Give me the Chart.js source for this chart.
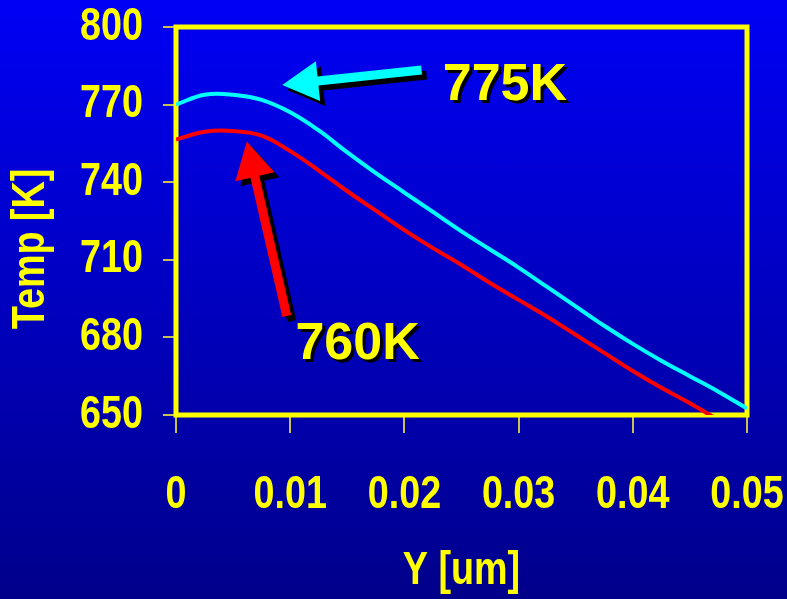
<!DOCTYPE html>
<html>
<head>
<meta charset="utf-8">
<script src="https://cdn.jsdelivr.net/npm/chart.js@4/dist/chart.umd.min.js"></script>
<style>
  html, body { margin: 0; padding: 0; }
  body { width: 787px; height: 599px; background: linear-gradient(#0000f5, #00008a); }
  #wrap { width: 787px; height: 599px; }
</style>
</head>
<body>
<div id="wrap"><canvas id="tempChart"></canvas></div>
<script>
// ===================== DATA =====================
const yPositions = [0, 0.0025, 0.005, 0.0075, 0.01, 0.0125, 0.015, 0.0175, 0.02, 0.0225, 0.025,
  0.0275, 0.03, 0.0325, 0.035, 0.0375, 0.04, 0.0425, 0.045, 0.0475, 0.05];
const temp775 = [770, 773.8, 773.8, 771.8, 767, 760, 751.5, 743.5, 736, 728.5, 721,
  714, 707, 699.5, 692, 684.5, 677.5, 671, 665, 659, 652.5];
const temp760 = [756.5, 759.5, 759.8, 758, 752, 744.5, 736.5, 729, 721.5, 714.5, 708,
  701, 694.5, 688, 681, 674, 667, 660.5, 654.5, 648, 641];
const xTickValues = [0, 0.01, 0.02, 0.03, 0.04, 0.05];
const xTickLabels = ["0", "0.01", "0.02", "0.03", "0.04", "0.05"];
const yTickValues = [650, 680, 710, 740, 770, 800];
const peakLabels = ["775K", "760K"];

// annotation anchors, in data units
const arrow775 = { from: [0.0215, 783.4], to: [0.0093, 777.6] };
const arrow760 = { from: [0.0097, 688.3], to: [0.0062, 755.7] };
const label775At = [0.0288, 771.8];
const label760At = [0.0159, 671.6];

const YELLOW = "#ffff00";
const SANS = '"Liberation Sans", Arial, sans-serif';
const NARROW = 0.82; // horizontal squeeze to fake Arial Narrow

// ===================== PLUGINS =====================
// axis text is drawn before the datasets: squeeze it until then
const narrowText = {
  id: "narrowText",
  beforeDraw(chart) {
    const ctx = chart.ctx;
    const fill = CanvasRenderingContext2D.prototype.fillText;
    ctx.fillText = function (text, x, y, maxWidth) {
      this.save();
      this.translate(x, y);
      this.scale(NARROW, 1);
      if (maxWidth === undefined) fill.call(this, text, 0, 0);
      else fill.call(this, text, 0, 0, maxWidth / NARROW);
      this.restore();
    };
  },
  beforeDatasetsDraw(chart) {
    delete chart.ctx.fillText;
  }
};

const frame = {
  id: "frame",
  beforeDatasetsDraw(chart) {
    const { ctx, chartArea: a } = chart;
    ctx.save();
    ctx.strokeStyle = YELLOW;
    ctx.lineWidth = 5;
    ctx.strokeRect(a.left, a.top, a.right - a.left, a.bottom - a.top);
    ctx.restore();
  }
};

function drawArrow(ctx, x0, y0, x1, y1, color) {
  const ang = Math.atan2(y1 - y0, x1 - x0);
  const headLen = 36, headHalf = 20, shaft = 9;
  const bx = x1 - Math.cos(ang) * headLen;
  const by = y1 - Math.sin(ang) * headLen;
  const nx = -Math.sin(ang), ny = Math.cos(ang);
  ctx.fillStyle = color;
  ctx.beginPath();
  ctx.moveTo(x0 + nx * shaft / 2, y0 + ny * shaft / 2);
  ctx.lineTo(bx + nx * shaft / 2, by + ny * shaft / 2);
  ctx.lineTo(bx + nx * headHalf, by + ny * headHalf);
  ctx.lineTo(x1, y1);
  ctx.lineTo(bx - nx * headHalf, by - ny * headHalf);
  ctx.lineTo(bx - nx * shaft / 2, by - ny * shaft / 2);
  ctx.lineTo(x0 - nx * shaft / 2, y0 - ny * shaft / 2);
  ctx.closePath();
  ctx.fill();
}

const callouts = {
  id: "callouts",
  afterDatasetsDraw(chart) {
    const { ctx, scales: { x, y } } = chart;
    const px = p => [x.getPixelForValue(p[0]), y.getPixelForValue(p[1])];
    ctx.save();
    [[arrow775, "#00ffff"], [arrow760, "#ff0000"]].forEach(([a, c]) => {
      const [x0, y0] = px(a.from);
      const [x1, y1] = px(a.to);
      drawArrow(ctx, x0 + 5, y0 + 5, x1 + 5, y1 + 5, "#000000");
      drawArrow(ctx, x0, y0, x1, y1, c);
    });
    ctx.font = "bold 52px " + SANS;
    ctx.textAlign = "center";
    ctx.textBaseline = "alphabetic";
    [[label775At, peakLabels[0]], [label760At, peakLabels[1]]].forEach(([p, t]) => {
      const [tx, ty] = px(p);
      ctx.fillStyle = "#000000";
      ctx.fillText(t, tx + 3, ty + 3);
      ctx.fillStyle = YELLOW;
      ctx.fillText(t, tx, ty);
    });
    ctx.restore();
  }
};

const yTitle = {
  id: "yTitle",
  afterDraw(chart) {
    const { ctx } = chart;
    ctx.save();
    ctx.translate(31, 249);
    ctx.rotate(-Math.PI / 2);
    ctx.scale(NARROW, 1);
    ctx.font = "bold 46px " + SANS;
    ctx.fillStyle = YELLOW;
    ctx.textAlign = "center";
    ctx.textBaseline = "middle";
    ctx.fillText("Temp [K]", 0, 0);
    ctx.restore();
  }
};

// ===================== CHART =====================
const ctx = document.getElementById("tempChart").getContext("2d");

new Chart(ctx, {
  type: "line",
  data: {
    datasets: [
      {
        label: "775K",
        data: yPositions.map((v, i) => ({ x: v, y: temp775[i] })),
        borderColor: "#00ffff",
        borderWidth: 4,
        pointRadius: 0,
        tension: 0.4
      },
      {
        label: "760K",
        data: yPositions.map((v, i) => ({ x: v, y: temp760[i] })),
        borderColor: "#ff0000",
        borderWidth: 4,
        pointRadius: 0,
        tension: 0.4
      }
    ]
  },
  options: {
    responsive: true,
    maintainAspectRatio: false,
    animation: false,
    layout: { padding: 0 },
    plugins: { legend: { display: false }, tooltip: { enabled: false } },
    scales: {
      x: {
        type: "linear",
        min: 0,
        max: 0.05,
        afterBuildTicks: s => { s.ticks = xTickValues.map(v => ({ value: v })); },
        afterFit: s => { s.height = 184; s.paddingLeft = 0; s.paddingRight = 40; },
        border: { display: false },
        grid: { drawOnChartArea: false, drawTicks: true, tickLength: 18, color: "#c8c050", lineWidth: 2 },
        ticks: {
          color: YELLOW,
          padding: 35,
          maxRotation: 0,
          autoSkip: false,
          font: { family: SANS, size: 46, weight: "bold" },
          callback: (v) => xTickLabels[xTickValues.indexOf(v)] ?? ""
        },
        title: {
          display: true,
          text: "Y [um]",
          color: YELLOW,
          font: { family: SANS, size: 46, weight: "bold" },
          padding: { top: 0, bottom: 0 }
        }
      },
      y: {
        min: 650,
        max: 800,
        afterBuildTicks: s => { s.ticks = yTickValues.map(v => ({ value: v })); },
        afterFit: s => { s.width = 176; s.paddingTop = 27; s.paddingBottom = 0; },
        border: { display: false },
        grid: { drawOnChartArea: false, drawTicks: true, tickLength: 13, color: "#c8c050", lineWidth: 2 },
        ticks: {
          color: YELLOW,
          padding: 20,
          font: { family: SANS, size: 46, weight: "bold" }
        }
      }
    }
  },
  plugins: [narrowText, frame, callouts, yTitle]
});
</script>
</body>
</html>
